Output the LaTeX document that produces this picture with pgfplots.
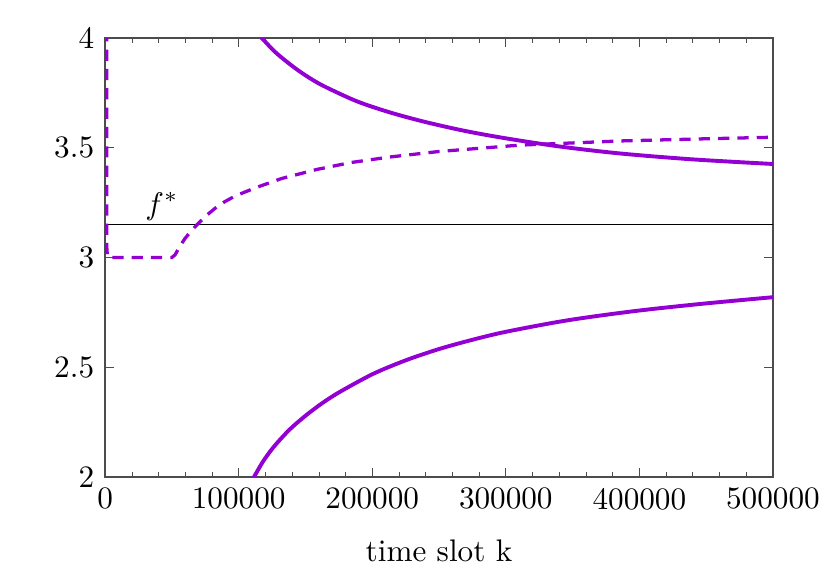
\documentclass[border=0pt]{standalone}
\usepackage{pgfplots}
\pgfplotsset{compat=1.18}
\definecolor{gpviolet}{HTML}{9400D3}

\begin{document}
\begin{tikzpicture}
\begin{axis}[
  scale only axis,
  width=214.1pt, height=140.7pt,
  xmin=0, xmax=500000,
  ymin=2, ymax=4,
  xtick={0,100000,...,500000},
  xticklabels={0,100000,200000,300000,400000,500000},
  scaled x ticks=false,
  minor x tick num=4,
  ytick={2,2.5,3,3.5,4},
  yticklabels={2,2.5,3,3.5,4},
  tick align=inside,
  major tick length=2.9pt,
  minor tick length=1.6pt,
  axis line style={black!70},
  tick style={black!70},
  xlabel={time slot k},
  xlabel style={yshift=-2.8pt},
  clip=true,
]
% f*
\addplot[black, line width=0.5pt] coordinates {(0,3.15) (500000,3.15)};
\node[anchor=south, inner sep=1.2pt] at (axis cs:42500,3.15) {$f^*$};

% upper bound
\addplot[gpviolet, line width=1.25pt, smooth] coordinates {
  (110000,4.045) (117300,4.0) (127000,3.938) (138500,3.880) (150000,3.830)
  (163400,3.782) (188400,3.712) (213300,3.661) (240000,3.617)
  (270000,3.576) (300000,3.543) (340000,3.506) (385500,3.474)
  (440000,3.447) (500000,3.426)
};

% lower bound
\addplot[gpviolet, line width=1.25pt, smooth] coordinates {
  (108000,1.965) (111500,2.0) (118000,2.068) (126000,2.135) (138000,2.215)
  (150900,2.283) (163000,2.338) (175900,2.388) (200800,2.470)
  (225800,2.533) (250700,2.584) (275700,2.626) (300600,2.662)
  (345600,2.713) (395500,2.755) (445400,2.788) (500000,2.819)
};

% running average
\addplot[gpviolet, line width=1.05pt, dash pattern=on 3.6pt off 2.6pt] coordinates {
  (1100,4.3) (1200,3.05) (1800,3.0) (50000,3.0)
  (52400,3.012) (56000,3.052) (59900,3.087) (64500,3.122) (69900,3.156)
  (76000,3.192) (82300,3.224) (89500,3.254) (97300,3.280)
  (112300,3.317) (132200,3.360) (158400,3.401) (183400,3.432)
  (213300,3.458) (250000,3.483) (310600,3.512) (385500,3.531)
  (450400,3.541) (500000,3.548)
};
\end{axis}
\pgfresetboundingbox
\path ([xshift=-33.7pt,yshift=-33.3pt]current axis.south west)
  rectangle ([xshift=18.3pt,yshift=12.2pt]current axis.north east);
\end{tikzpicture}
\end{document}
